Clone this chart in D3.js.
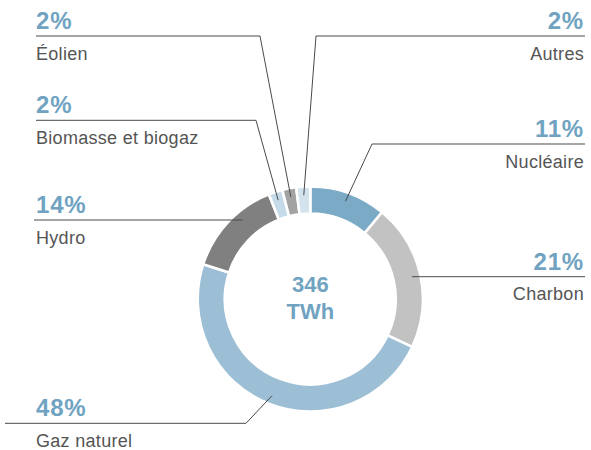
<!DOCTYPE html>
<html>
<head>
<meta charset="utf-8">
<script src="https://cdn.jsdelivr.net/npm/d3@7"></script>
<style>
  body { margin: 0; background: #fff; }
  svg { display: block; font-family: "Liberation Sans", Arial, sans-serif; }
</style>
</head>
<body>
<svg id="chart"></svg>
<script>
const WIDTH = 591;
const HEIGHT = 450;

// data, clockwise from 12 o'clock
const sources = ["Nucléaire", "Charbon", "Gaz naturel", "Hydro", "Biomasse et biogaz", "Éolien", "Autres"];
const shares = [11, 21, 48, 14, 2, 2, 2];
const sliceColors = ["#7aaac6", "#c2c2c2", "#9dbfd6", "#808080", "#c6dbea", "#a2a2a2", "#d3e3ee"];
const totalLabel = ["346", "TWh"];

// label placement (line y, elbow x or null when the line is flat, side)
const labelLineY = [144, 276.7, 423.3, 220, 120.3, 36, 36];
const labelElbowX = [372, null, 246, null, 256, 260, 316];
const labelSide = ["right", "right", "left", "left", "left", "left", "right"];

const CX = 310.3, CY = 299;
const R_OUT = 112.6, R_IN = 85.4, R_LEAD = 104;
const LEFT_X = 36, RIGHT_X = 585;

function main(){
    var svg = d3.select("#chart")
        .attr("width", WIDTH)
        .attr("height", HEIGHT);

    var pie = d3.pie().sort(null).value(d => d);
    var arcs = pie(shares);

    var arc = d3.arc().innerRadius(R_IN).outerRadius(R_OUT);

    var donut = svg.append("g").attr("transform", "translate(" + CX + "," + CY + ")");

    donut.selectAll("path")
        .data(arcs)
        .enter()
        .append("path")
        .attr("d", arc)
        .attr("fill", (d, i) => sliceColors[i])
        .attr("stroke", "#fff")
        .attr("stroke-width", 2.6);

    // centre total
    donut.selectAll("text.total")
        .data(totalLabel)
        .enter()
        .append("text")
        .attr("class", "total")
        .attr("x", 0)
        .attr("y", (d, i) => -7 + i * 27)
        .attr("text-anchor", "middle")
        .attr("font-size", 22)
        .attr("font-weight", "bold")
        .attr("fill", "#6fa3c1")
        .text(d => d);

    // leader lines + labels
    var labels = svg.append("g");

    arcs.forEach((a, i) => {
        var y = labelLineY[i];
        var side = labelSide[i];
        var end;
        if (labelElbowX[i] === null) {
            var dy = y - CY;
            var dx = Math.sqrt(R_LEAD * R_LEAD - dy * dy);
            end = [CX + (side === "right" ? dx : -dx), y];
        } else {
            var mid = (a.startAngle + a.endAngle) / 2;
            end = [CX + R_LEAD * Math.sin(mid), CY - R_LEAD * Math.cos(mid)];
        }
        var outerX = side === "right" ? RIGHT_X : (i === 2 ? 5 : (i === 3 ? 34 : LEFT_X));
        var pts = [[outerX, y]];
        if (labelElbowX[i] !== null) pts.push([labelElbowX[i], y]);
        pts.push(end);

        labels.append("path")
            .attr("d", d3.line()(pts))
            .attr("fill", "none")
            .attr("stroke", "#4a4a4a")
            .attr("stroke-width", 1);

        var tx = side === "right" ? RIGHT_X - 1 : LEFT_X;
        var anchor = side === "right" ? "end" : "start";

        labels.append("text")
            .attr("x", tx)
            .attr("y", y - 7)
            .attr("text-anchor", anchor)
            .attr("font-size", 24)
            .attr("font-weight", "bold")
            .attr("letter-spacing", 0.8)
            .attr("fill", "#6fa3c1")
            .text(shares[i] + "%");

        labels.append("text")
            .attr("x", tx)
            .attr("y", y + 23.5)
            .attr("text-anchor", anchor)
            .attr("font-size", 18)
            .attr("letter-spacing", 0.3)
            .attr("fill", "#555")
            .text(sources[i]);
    });
}

main();
</script>
</body>
</html>
